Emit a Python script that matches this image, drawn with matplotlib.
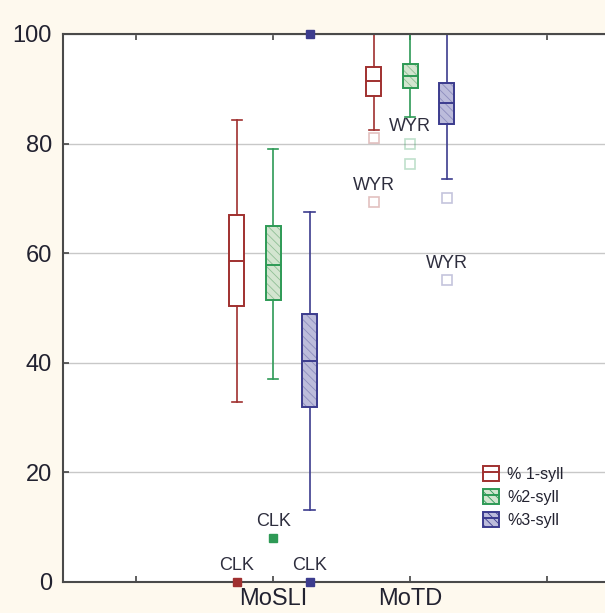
import matplotlib
matplotlib.use("Agg")
import matplotlib.pyplot as plt
from matplotlib.patches import Patch, PathPatch
from matplotlib.lines import Line2D

plt.rcParams['font.family'] = ['Liberation Sans', 'DejaVu Sans']
plt.rcParams['hatch.linewidth'] = 0.6

groups = ['MoSLI', 'MoTD']
series = ['% 1-syll', '%2-syll', '%3-syll']

# whisker low, q1, median, q3, whisker high  (per group)
whislo = [[32.8, 82.5], [37.0, 84.8], [13.2, 73.6]]
q1 = [[50.3, 88.7], [51.5, 90.2], [31.9, 83.6]]
med = [[58.5, 91.4], [57.9, 92.3], [40.4, 87.4]]
q3 = [[67.0, 94.0], [64.9, 94.5], [48.9, 91.1]]
whishi = [[84.3, 100.0], [79.0, 100.0], [67.5, 100.0]]
fliers = [[[0.0], [81.0, 69.3]],
          [[8.0], [80.0, 76.2]],
          [[0.0, 100.0], [70.0, 55.1]]]
# labelled outliers: (series, group, value, text)
flier_labels = [(0, 0, 0.0, 'CLK'), (1, 0, 8.0, 'CLK'), (2, 0, 0.0, 'CLK'),
                (0, 1, 69.3, 'WYR'), (1, 1, 80.0, 'WYR'), (2, 1, 55.1, 'WYR')]

edge = ['#a0302f', '#2e9a56', '#3c3c8e']
fill = ['#ffffff', '#d3e5d0', '#bcbcdb']
hatchc = ['#ffffff', '#8fbf95', '#8c8cbd']
hatches = [None, '\\\\\\\\', '\\\\\\\\']
offs = [-0.266, 0.0, 0.266]
grp_pos = [1, 2]

fig = plt.figure(figsize=(6.05, 6.13), dpi=100)
fig.patch.set_facecolor('#fef9ee')
ax = fig.add_axes([0.104, 0.0506, 0.896, 0.894])
ax.set_facecolor('white')

for s in range(3):
    stats = []
    for g in range(2):
        stats.append(dict(whislo=whislo[s][g], q1=q1[s][g], med=med[s][g],
                          q3=q3[s][g], whishi=whishi[s][g], fliers=[]))
    pos = [p + offs[s] for p in grp_pos]
    bp = ax.bxp(stats, positions=pos, widths=0.11, capwidths=0.075,
                patch_artist=True, showfliers=False,
                boxprops=dict(facecolor=fill[s], edgecolor=hatchc[s], linewidth=0.6),
                medianprops=dict(color=edge[s], linewidth=1.4),
                whiskerprops=dict(color=edge[s], linewidth=1.2),
                capprops=dict(color=edge[s], linewidth=1.2))
    for b in bp['boxes']:
        if hatches[s]:
            b.set_hatch(hatches[s])
        ax.add_patch(PathPatch(b.get_path(), fill=False, edgecolor=edge[s],
                               linewidth=1.4, zorder=b.get_zorder() + 0.1))
    for m in bp['medians']:
        m.set_zorder(3)
    # outliers
    for g in range(2):
        xs = [grp_pos[g] + offs[s]] * len(fliers[s][g])
        if g == 0:
            ax.plot(xs, fliers[s][g], 's', color=edge[s], markersize=6,
                    clip_on=False, zorder=4)
        else:
            ax.plot(xs, fliers[s][g], 's', markerfacecolor='none',
                    markeredgecolor=edge[s], alpha=0.3, markersize=7,
                    markeredgewidth=1.2, clip_on=False, zorder=4)

for s, g, v, t in flier_labels:
    ax.annotate(t, (grp_pos[g] + offs[s], v), xytext=(0, 12),
                textcoords='offset points', ha='center', va='center',
                fontsize=13, color='#2e2e3e')

ax.set_ylim(0, 100)
ax.set_xlim(-0.533, 3.42)
ax.set_yticks([0, 20, 40, 60, 80, 100])
ax.set_xticks([0, 1, 2, 3])
ax.set_xticklabels(['', groups[0], groups[1], ''])
ax.yaxis.grid(True, color='#c8c8c8', linewidth=1.0)
ax.set_axisbelow(True)
ax.tick_params(axis='both', direction='in', length=4, width=1.2,
               colors='#444444', labelcolor='#222230', labelsize=17, pad=8)
ax.tick_params(axis='x', top=True, pad=4)
ax.spines['right'].set_visible(False)
for sp in ['left', 'bottom', 'top']:
    ax.spines[sp].set_color('#4a4a4a')
    ax.spines[sp].set_linewidth(1.5)

handles = []
for s in range(3):
    p = Patch(facecolor=fill[s], edgecolor=edge[s], hatch=hatches[s], linewidth=1.4)
    ln = Line2D([], [], color=edge[s], linewidth=1.4)
    handles.append((p, ln))
ax.legend(handles, series, loc='upper left', bbox_to_anchor=(0.775, 0.212),
          frameon=False, fontsize=11.5, handlelength=1.0, handleheight=1.05,
          handletextpad=0.5, labelspacing=0.45, borderpad=0, borderaxespad=0,
          labelcolor='#222230')

fig.savefig('out.png', dpi=100, facecolor=fig.get_facecolor())
